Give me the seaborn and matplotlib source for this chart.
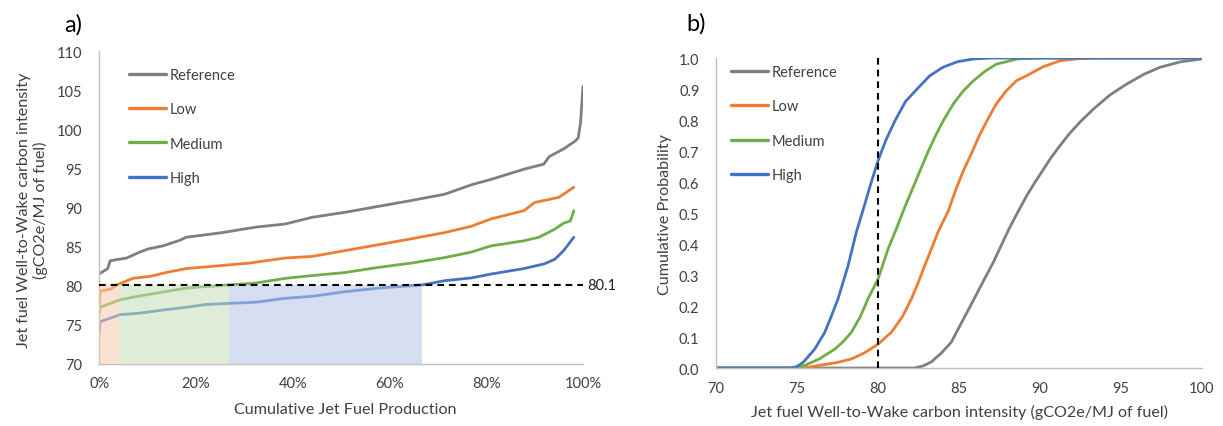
"""
wtw_jet_fuel.py
Jet fuel WtW carbon intensity: supply curve (a) and cumulative probability (b).
"""

import pandas as pd
import matplotlib.pyplot as plt
import matplotlib.ticker as mticker
import matplotlib.transforms as mtransforms
import seaborn as sns

sns.set_theme(style='white')
plt.rcParams['font.family'] = ['Lato', 'DejaVu Sans']

SCENARIOS = ['Reference', 'Low', 'Medium', 'High']
COLORS = {
    'Reference': '#7f7f7f',
    'Low':       '#ed7d31',
    'Medium':    '#70ad47',
    'High':      '#4472c4',
}
TXT = '#404040'
LABEL_FS = 11.6

# ── a) cumulative production share (%) vs carbon intensity (gCO2e/MJ) ────────
SHARE_REF = [0, 1.8, 2.3, 5.7, 8.4, 10.1, 13.2, 16.6, 18.0, 25.5, 32.4, 38.5, 44.0,
             50.9, 57.7, 64.5, 71.4, 76.9, 81.0, 87.8, 91.9, 93.0, 96.0, 98.4, 99.0,
             99.5, 100]
CI_REF = [81.5, 82.2, 83.2, 83.55, 84.3, 84.7, 85.1, 85.8, 86.2, 86.8, 87.5, 87.9, 88.75,
          89.4, 90.15, 90.9, 91.7, 92.9, 93.6, 94.9, 95.55, 96.5, 97.5, 98.5, 98.9,
          100.9, 105.5]

SHARE_LOW = [0, 0.2, 2.5, 3.6, 7.0, 10.5, 13.9, 18.0, 25.5, 31.0, 38.5, 44.0, 50.9,
             57.7, 64.5, 71.4, 76.9, 81.0, 87.8, 90.0, 95.0, 98.1]
CI_LOW = [77.0, 79.3, 79.6, 80.1, 80.95, 81.2, 81.7, 82.2, 82.6, 82.9, 83.55, 83.75, 84.5,
          85.25, 86.0, 86.8, 87.6, 88.55, 89.6, 90.65, 91.3, 92.6]

SHARE_MED = [0, 0.2, 4.3, 8.4, 13.2, 18.0, 22.0, 26.9, 32.4, 38.5, 44.0, 50.9, 57.7,
             64.5, 71.4, 76.9, 81.0, 87.8, 90.9, 94.2, 96.0, 97.4, 98.1]
CI_MED = [76.4, 77.25, 78.2, 78.7, 79.2, 79.7, 79.9, 80.1, 80.35, 80.95, 81.3, 81.7, 82.35,
          82.9, 83.6, 84.3, 85.1, 85.75, 86.2, 87.25, 88.0, 88.3, 89.6]

SHARE_HIGH = [0, 0.2, 4.3, 8.4, 13.2, 18.0, 22.0, 26.9, 32.4, 38.5, 44.0, 50.9, 57.7,
              66.7, 71.4, 76.9, 81.0, 87.8, 92.0, 94.2, 96.0, 98.1]
CI_HIGH = [73.8, 75.4, 76.3, 76.5, 76.9, 77.25, 77.6, 77.75, 77.9, 78.4, 78.65, 79.25, 79.7,
           80.1, 80.65, 81.0, 81.5, 82.2, 82.8, 83.4, 84.5, 86.2]

THRESHOLD = 80.1
CROSS_SHARE = [4.2, 26.9, 66.8]   # share where Low / Medium / High reach the threshold

# ── b) cumulative probability of carbon intensity ────────────────────────────
X_REF = [70, 82.26, 82.8, 83.3, 83.9, 84.52, 85.06, 85.6, 86.1, 86.6, 87.12, 87.6, 88.1,
         88.6, 89.18, 89.7, 90.2, 90.7, 91.23, 91.8, 92.5, 93.29, 94.3, 95.35, 96.4,
         97.4, 98.7, 100]
P_REF = [0, 0, 0.007, 0.02, 0.048, 0.083, 0.137, 0.19, 0.24, 0.29, 0.341, 0.395, 0.45,
         0.5, 0.556, 0.6, 0.64, 0.68, 0.717, 0.755, 0.795, 0.835, 0.88, 0.916, 0.947,
         0.97, 0.988, 0.997]

X_LOW = [70, 75.5, 76.3, 77.4, 78.35, 79.2, 80.0, 80.82, 81.5, 82.06, 82.5, 82.88,
         83.3, 83.7, 84.34, 84.8, 85.27, 85.75, 86.2, 86.75, 87.3, 87.9, 88.55, 89.18,
         90.2, 91.23, 92.4, 93.7, 100]
P_LOW = [0, 0, 0.008, 0.017, 0.029, 0.05, 0.077, 0.115, 0.165, 0.223, 0.278, 0.33,
         0.385, 0.438, 0.507, 0.575, 0.637, 0.69, 0.744, 0.8, 0.852, 0.893, 0.927, 0.943,
         0.972, 0.991, 0.998, 1.0, 1.0]

X_MED = [70, 75.0, 75.47, 76.4, 77.33, 77.85, 78.35, 78.9, 79.38, 80.0, 80.62, 81.1,
         81.56, 82.1, 82.6, 83.05, 83.5, 84.05, 84.65, 85.25, 85.9, 86.6, 87.3, 88.6,
         90.0, 100]
P_MED = [0, 0, 0.008, 0.03, 0.061, 0.085, 0.115, 0.165, 0.223, 0.287, 0.384, 0.445,
         0.507, 0.575, 0.637, 0.693, 0.744, 0.8, 0.852, 0.893, 0.927, 0.957, 0.98, 0.997,
         1.0, 1.0]

X_HIGH = [70, 74.65, 75.0, 75.37, 76.09, 76.71, 77.1, 77.53, 78.15, 78.66, 79.06, 79.5,
          80.0, 80.5, 81.05, 81.7, 82.5, 83.2, 84.0, 84.9, 85.9, 87.0, 100]
P_HIGH = [0, 0, 0.005, 0.018, 0.061, 0.115, 0.165, 0.223, 0.33, 0.438, 0.507, 0.585,
          0.669, 0.737, 0.798, 0.86, 0.905, 0.943, 0.97, 0.988, 0.997, 1.0, 1.0]

TARGET_CI = 80


def long_df(pairs, xname, yname):
    frames = []
    for name, (xs, ys) in zip(SCENARIOS, pairs):
        frames.append(pd.DataFrame({xname: xs, yname: ys, 'scenario': name}))
    return pd.concat(frames, ignore_index=True)


def style_axes(ax):
    for side in ['top', 'right']:
        ax.spines[side].set_visible(False)
    for side in ['left', 'bottom']:
        ax.spines[side].set_color('#bfbfbf')
        ax.spines[side].set_linewidth(1.0)
    ax.tick_params(axis='both', length=0, labelsize=10.5, colors=TXT)


def add_legend(ax, anchor):
    handles, labels = ax.get_legend_handles_labels()
    leg = ax.legend(handles, labels, loc='upper left', bbox_to_anchor=anchor,
                    frameon=False, fontsize=10.5, handlelength=2.5,
                    handletextpad=0.25, labelspacing=1.4, borderpad=0,
                    borderaxespad=0)
    for t in leg.get_texts():
        t.set_color(TXT)
    for h in leg.get_lines():
        h.set_linewidth(2.4)


fig = plt.figure(figsize=(12.23, 4.27), dpi=100)
ax1 = fig.add_axes([0.081, 0.1452, 0.3957, 0.7328])
ax2 = fig.add_axes([0.5855, 0.1358, 0.3973, 0.7260])

# ── Panel a ──────────────────────────────────────────────────────────────────
df_a = long_df([(SHARE_REF, CI_REF), (SHARE_LOW, CI_LOW),
                (SHARE_MED, CI_MED), (SHARE_HIGH, CI_HIGH)], 'share', 'ci')
sns.lineplot(data=df_a, x='share', y='ci', hue='scenario', hue_order=SCENARIOS,
             palette=COLORS, estimator=None, sort=False, linewidth=2.0, ax=ax1)

# pale overlays below the threshold (drawn over the lines, as in the original)
fills = [('#f8caad', 0, CROSS_SHARE[0]),
         ('#c6deb6', CROSS_SHARE[0], CROSS_SHARE[1]),
         ('#b4c6e7', CROSS_SHARE[1], CROSS_SHARE[2])]
for col, x0, x1 in fills:
    ax1.fill_between([x0, x1], 70, THRESHOLD, color=col, alpha=0.55,
                     linewidth=0, zorder=3)

ax1.plot([0, 100], [THRESHOLD, THRESHOLD], color='black', linewidth=1.5,
         dashes=(3.2, 2.4), zorder=4)
trans = mtransforms.blended_transform_factory(ax1.transAxes, ax1.transData)
ax1.text(1.008, THRESHOLD, f'{THRESHOLD}', transform=trans, ha='left', va='center',
         fontsize=10.5, color='#202020')

ax1.set_xlim(0, 100)
ax1.set_ylim(70, 110)
ax1.set_xticks([0, 20, 40, 60, 80, 100])
ax1.xaxis.set_major_formatter(mticker.FuncFormatter(lambda x, _: f'{x:.0f}%'))
ax1.set_yticks(range(70, 111, 5))
style_axes(ax1)
ax1.tick_params(axis='y', pad=12)
ax1.tick_params(axis='x', pad=9)
ax1.set_xlabel('Cumulative Jet Fuel Production', fontsize=LABEL_FS, color=TXT)
ax1.set_ylabel('Jet fuel Well-to-Wake carbon intensity\n(gCO2e/MJ of fuel)',
               fontsize=LABEL_FS, color=TXT, linespacing=1.1)
ax1.xaxis.set_label_coords(0.508, -0.122)
ax1.yaxis.set_label_coords(-0.106, 0.495)
add_legend(ax1, (0.062, 0.947))

# ── Panel b ──────────────────────────────────────────────────────────────────
df_b = long_df([(X_REF, P_REF), (X_LOW, P_LOW),
                (X_MED, P_MED), (X_HIGH, P_HIGH)], 'ci', 'prob')
sns.lineplot(data=df_b, x='ci', y='prob', hue='scenario', hue_order=SCENARIOS,
             palette=COLORS, estimator=None, sort=False, linewidth=2.0, ax=ax2)
ax2.plot([TARGET_CI, TARGET_CI], [0, 1], color='black', linewidth=1.5,
         dashes=(3.2, 2.4), zorder=4)

ax2.set_xlim(70, 100)
ax2.set_ylim(0, 1)
ax2.set_xticks(range(70, 101, 5))
ax2.set_yticks([i / 10 for i in range(11)])
ax2.yaxis.set_major_formatter(mticker.FuncFormatter(lambda y, _: f'{y:.1f}'))
style_axes(ax2)
ax2.tick_params(axis='y', pad=12)
ax2.tick_params(axis='x', pad=9)
ax2.set_xlabel('Jet fuel Well-to-Wake carbon intensity (gCO2e/MJ of fuel)',
               fontsize=LABEL_FS, color=TXT)
ax2.set_ylabel('Cumulative Probability', fontsize=LABEL_FS, color=TXT)
ax2.xaxis.set_label_coords(0.5, -0.115)
ax2.yaxis.set_label_coords(-0.09, 0.5)
add_legend(ax2, (0.031, 0.978))

fig.text(0.0597, 0.941, 'a)', fontsize=17, color='black', va='center', ha='center')
fig.text(0.5695, 0.945, 'b)', fontsize=17, color='black', va='center', ha='center')

fig.savefig('out.png', dpi=100)
plt.close(fig)
print('Saved out.png')
